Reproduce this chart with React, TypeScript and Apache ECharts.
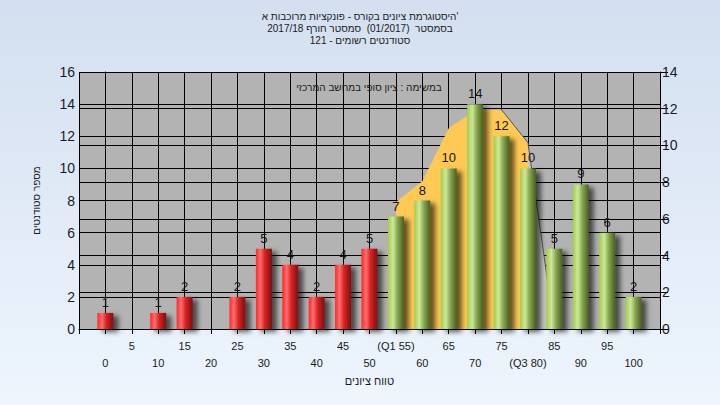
import React, { useEffect, useRef } from "react";
import * as echarts from "echarts";

// ---- data ----
const scoreBins = [0, 5, 10, 15, 20, 25, 30, 35, 40, 45, 50, 55, 60, 65, 70, 75, 80, 85, 90, 95, 100];
const studentCounts = [1, 0, 1, 2, 0, 2, 5, 4, 2, 4, 5, 7, 8, 10, 14, 12, 10, 5, 9, 6, 2];
const passFrom = 55;
const iqrBins = [55, 60, 65, 70, 75, 80];
const iqrCurve = [7.9, 9.2, 12.5, 13.6, 13.65, 11.6];
const tailBins = [80, 85];
const tailCurve = [11.6, 0];
const edgeBins = [75, 80, 85];
const edgeCurve = [13.65, 11.6, 0];
const specialTickLabels: Record<number, string> = { 55: "(Q1 55)", 80: "(Q3 80)" };
const titleLines = [
  "היסטוגרמת ציונים בקורס - פונקציות מרוכבות א'",
  "בסמסטר  (01/2017)  סמסטר חורף 2017/18",
  "סטודנטים רשומים - 121",
];
const noteText = "במשימה : ציון סופי במחשב המרכזי";
const xName = "טווח ציונים";
const yName = "מספר סטודנטים";

const FONT = "'Liberation Sans', 'DejaVu Sans', Arial, sans-serif";

const redGrad = () =>
  new echarts.graphic.LinearGradient(0, 0, 1, 0, [
    { offset: 0, color: "#ff2626" },
    { offset: 0.28, color: "#ff6e6e" },
    { offset: 0.55, color: "#dc2424" },
    { offset: 1, color: "#761010" },
  ]);
const greenGrad = () =>
  new echarts.graphic.LinearGradient(0, 0, 1, 0, [
    { offset: 0, color: "#a4cc44" },
    { offset: 0.32, color: "#cbe89c" },
    { offset: 0.6, color: "#88a650" },
    { offset: 1, color: "#485e1e" },
  ]);

export default function App() {
  const ref = useRef<HTMLDivElement>(null);
  useEffect(() => {
    document.body.style.margin = "0";
    const chart = echarts.init(ref.current!, null, { renderer: "svg" });
    const barData = scoreBins.map((b, i) => ({
      value: [b, studentCounts[i]],
      itemStyle: { color: b < passFrom ? redGrad() : greenGrad() },
    }));
    chart.setOption({
      animation: false,
      backgroundColor: new echarts.graphic.LinearGradient(0, 0, 0, 1, [
        { offset: 0, color: "#d3dff0" },
        { offset: 1, color: "#eef5fd" },
      ]),
      textStyle: { fontFamily: FONT },
      title: titleLines.map((t, i) => ({
        text: t,
        left: "center",
        top: 11 + i * 12,
        padding: 0,
        textStyle: { fontSize: 10, fontWeight: "normal", color: "#1a1a1a", lineHeight: 11, fontFamily: FONT },
      })),
      graphic: [
        {
          type: "text",
          x: 369,
          y: 87,
          z: 10,
          style: {
            text: noteText,
            fill: "#1a1a1a",
            font: `10px ${FONT}`,
            textAlign: "center",
            textVerticalAlign: "middle",
          },
        },
      ],
      grid: {
        left: 79,
        right: 60,
        top: 72,
        bottom: 76,
        show: true,
        backgroundColor: "#b3b3b3",
        borderWidth: 0,
      },
      xAxis: {
        type: "value",
        min: -5,
        max: 105,
        interval: 5,
        name: xName,
        nameLocation: "middle",
        nameGap: 46,
        nameTextStyle: { fontSize: 11, color: "#1a1a1a" },
        axisLine: { show: true, lineStyle: { color: "#000", width: 1 } },
        axisTick: { show: true, length: 5, lineStyle: { color: "#000" } },
        splitLine: { show: true, lineStyle: { color: "#000", width: 1 } },
        axisLabel: {
          fontSize: 11,
          color: "#1a1a1a",
          lineHeight: 17,
          margin: 8,
          showMinLabel: true,
          showMaxLabel: true,
          formatter: (v: number) => {
            if (v < 0 || v > 100) return "";
            const t = specialTickLabels[v] ?? String(v);
            return v % 10 === 0 ? "\n" + t : t;
          },
        },
      },
      yAxis: [
        {
          type: "value",
          min: 0,
          max: 16,
          interval: 2,
          position: "left",
          name: yName,
          nameLocation: "middle",
          nameGap: 38,
          nameRotate: 90,
          nameTextStyle: { fontSize: 10, color: "#1a1a1a" },
          axisLine: { show: true, lineStyle: { color: "#000" } },
          axisTick: { show: true, length: 7, lineStyle: { color: "#000" } },
          splitLine: { show: true, lineStyle: { color: "#000", width: 1 } },
          axisLabel: { fontSize: 14, color: "#1a1a2a", margin: 4 },
        },
        {
          type: "value",
          min: 0,
          max: 14,
          interval: 2,
          position: "right",
          axisLine: { show: true, lineStyle: { color: "#000" } },
          axisTick: { show: true, length: 8, lineStyle: { color: "#000" } },
          splitLine: { show: true, lineStyle: { color: "#000", width: 1 } },
          axisLabel: { fontSize: 14, color: "#1a1a2a", margin: 2 },
        },
      ],
      series: [
        {
          type: "line",
          data: iqrBins.map((b, i) => [b, iqrCurve[i]]),
          symbol: "none",
          lineStyle: { width: 0 },
          areaStyle: { color: "#ffc955", opacity: 1 },
          z: 1,
        },
        {
          type: "line",
          data: tailBins.map((b, i) => [b, tailCurve[i]]),
          symbol: "none",
          lineStyle: { width: 0 },
          areaStyle: { color: "#c6c6c6", opacity: 1 },
          z: 1,
        },
        {
          type: "line",
          data: edgeBins.map((b, i) => [b, edgeCurve[i]]),
          symbol: "none",
          lineStyle: { width: 1, color: "#555" },
          z: 2,
        },
        {
          type: "bar",
          data: barData,
          barWidth: 16,
          z: 5,
          itemStyle: {
            shadowColor: "rgba(0,0,0,0.6)",
            shadowBlur: 5,
            shadowOffsetX: 5,
            shadowOffsetY: 3,
          },
          label: {
            show: true,
            position: "top",
            distance: 4,
            fontSize: 13,
            color: "#151515",
            formatter: (p: any) => (p.value[1] > 0 ? String(p.value[1]) : ""),
          },
        },
      ],
    });
    return () => chart.dispose();
  }, []);
  return <div ref={ref} style={{ width: 720, height: 405 }} />;
}
